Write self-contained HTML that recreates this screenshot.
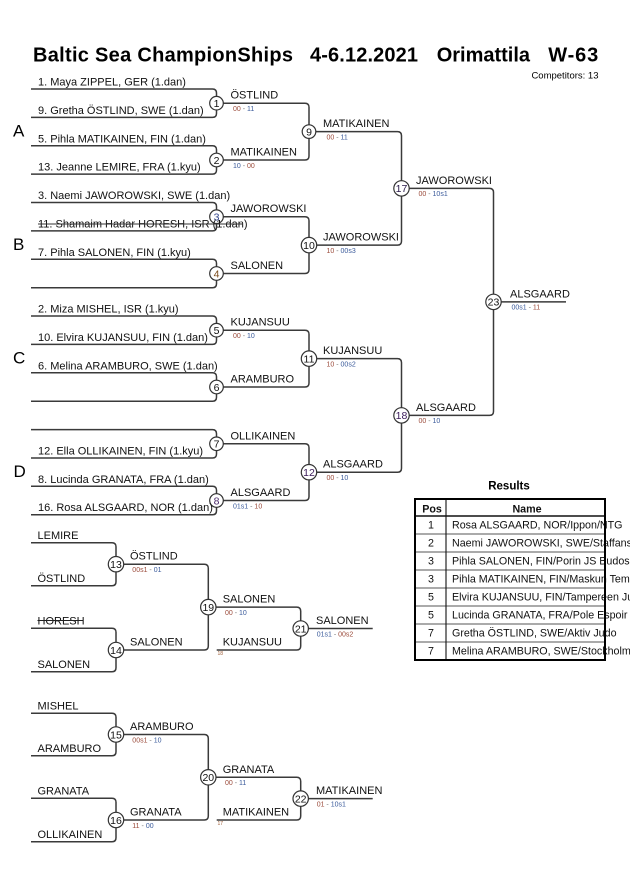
<!DOCTYPE html>
<html><head><meta charset="utf-8"><style>
html,body{margin:0;padding:0;background:#fff;}
svg{display:block;}
.t{font-family:"Liberation Sans",Arial,sans-serif;font-size:11px;fill:#111;}
.s{font-family:"Liberation Sans",Arial,sans-serif;font-size:7px;}
.n{font-family:"Liberation Sans",Arial,sans-serif;font-size:10.5px;fill:#111;text-anchor:middle;}
.L{fill:none;stroke:#3a3a3a;stroke-width:1.5;}
.c{fill:#fff;stroke:#333;stroke-width:1.2;}
.a{fill:#9b4b3b}.d{fill:#777}.b{fill:#3b5b9b}
</style></head><body>
<svg width="630" height="891" viewBox="0 0 630 891" xmlns="http://www.w3.org/2000/svg">
<!-- Title -->
<g font-family="Liberation Sans, Arial, sans-serif" font-weight="bold" font-size="20" fill="#000">
<text x="33" y="61.7" textLength="260" lengthAdjust="spacing">Baltic Sea ChampionShips</text>
<text x="310" y="61.7" textLength="108" lengthAdjust="spacing">4-6.12.2021</text>
<text x="436.7" y="61.7" textLength="93.3" lengthAdjust="spacing">Orimattila</text>
<text x="548.3" y="61.7" textLength="50" lengthAdjust="spacing">W-63</text>
</g>
<text x="598.5" y="78.5" font-family="Liberation Sans, Arial, sans-serif" font-size="9.5" text-anchor="end" fill="#000">Competitors: 13</text>

<!-- Pool letters -->
<g font-family="Liberation Sans, Arial, sans-serif" font-size="17" fill="#000">
<text x="13" y="136.7">A</text>
<text x="13" y="250">B</text>
<text x="13" y="363.5">C</text>
<text x="13.5" y="477">D</text>
</g>

<!-- Main bracket lines -->
<g class="L">
<path d="M31,89 H212.5 Q216.5,89 216.5,93 V113.4 Q216.5,117.4 212.5,117.4 H31"/>
<path d="M31,145.8 H212.5 Q216.5,145.8 216.5,149.8 V170.1 Q216.5,174.1 212.5,174.1 H31"/>
<path d="M31,202.5 H212.5 Q216.5,202.5 216.5,206.5 V226.9 Q216.5,230.9 212.5,230.9 H31"/>
<path d="M31,259.3 H212.5 Q216.5,259.3 216.5,263.3 V283.7 Q216.5,287.7 212.5,287.7 H31"/>
<path d="M31,316 H212.5 Q216.5,316 216.5,320 V340.4 Q216.5,344.4 212.5,344.4 H31"/>
<path d="M31,372.8 H212.5 Q216.5,372.8 216.5,376.8 V397.2 Q216.5,401.2 212.5,401.2 H31"/>
<path d="M31,429.6 H212.5 Q216.5,429.6 216.5,433.6 V454 Q216.5,458 212.5,458 H31"/>
<path d="M31,486.3 H212.5 Q216.5,486.3 216.5,490.3 V510.7 Q216.5,514.7 212.5,514.7 H31"/>

<path d="M216.5,103.2 H305 Q309,103.2 309,107.2 V156 Q309,160 305,160 H216.5"/>
<path d="M216.5,216.7 H305 Q309,216.7 309,220.7 V269.5 Q309,273.5 305,273.5 H216.5"/>
<path d="M216.5,330.2 H305 Q309,330.2 309,334.2 V383 Q309,387 305,387 H216.5"/>
<path d="M216.5,443.8 H305 Q309,443.8 309,447.8 V496.5 Q309,500.5 305,500.5 H216.5"/>

<path d="M309,131.6 H397.5 Q401.5,131.6 401.5,135.6 V241.1 Q401.5,245.1 397.5,245.1 H309"/>
<path d="M309,358.6 H397.5 Q401.5,358.6 401.5,362.6 V468.2 Q401.5,472.2 397.5,472.2 H309"/>

<path d="M401.5,188.4 H489.5 Q493.5,188.4 493.5,192.4 V411.4 Q493.5,415.4 489.5,415.4 H401.5"/>
<path d="M493.5,301.9 H566"/>

<!-- Repechage 1 -->
<path d="M31,542.7 H112 Q116,542.7 116,546.7 V581.7 Q116,585.7 112,585.7 H31"/>
<path d="M31,628.3 H112 Q116,628.3 116,632.3 V667.7 Q116,671.7 112,671.7 H31"/>
<path d="M116,564.2 H204.3 Q208.3,564.2 208.3,568.2 V646 Q208.3,650 204.3,650 H116"/>
<path d="M208.3,607.1 H296.7 Q300.7,607.1 300.7,611.1 V646 Q300.7,650 296.7,650 H216.7"/>
<path d="M300.7,628.5 H372.7"/>

<!-- Repechage 2 -->
<path d="M31,713.3 H112 Q116,713.3 116,717.3 V751.7 Q116,755.7 112,755.7 H31"/>
<path d="M31,798.3 H112 Q116,798.3 116,802.3 V837.7 Q116,841.7 112,841.7 H31"/>
<path d="M116,734.5 H204.3 Q208.3,734.5 208.3,738.5 V816 Q208.3,820 204.3,820 H116"/>
<path d="M208.3,777.3 H296.7 Q300.7,777.3 300.7,781.3 V816 Q300.7,820 296.7,820 H216.7"/>
<path d="M300.7,798.6 H372.7"/>
</g>

<!-- Circles -->
<g>
<circle class="c" cx="216.5" cy="103.2" r="6.8"/><text class="n" x="216.5" y="107">1</text>
<circle class="c" cx="216.5" cy="160" r="6.8"/><text class="n" x="216.5" y="163.8">2</text>
<circle class="c" cx="216.5" cy="216.7" r="6.8"/><text class="n" x="216.5" y="220.5" style="fill:#2a3f8a">3</text>
<circle class="c" cx="216.5" cy="273.5" r="6.8"/><text class="n" x="216.5" y="277.3" style="fill:#7a4a1a">4</text>
<circle class="c" cx="216.5" cy="330.2" r="6.8"/><text class="n" x="216.5" y="334">5</text>
<circle class="c" cx="216.5" cy="387" r="6.8"/><text class="n" x="216.5" y="390.8">6</text>
<circle class="c" cx="216.5" cy="443.8" r="6.8"/><text class="n" x="216.5" y="447.6">7</text>
<circle class="c" cx="216.5" cy="500.5" r="6.8"/><text class="n" x="216.5" y="504.3" style="fill:#4a2a6a">8</text>
<circle class="c" cx="309" cy="131.6" r="6.8"/><text class="n" x="309" y="135.4">9</text>
<circle class="c" cx="309" cy="245.1" r="7.7"/><text class="n" x="309" y="248.9">10</text>
<circle class="c" cx="309" cy="358.6" r="7.7"/><text class="n" x="309" y="362.4">11</text>
<circle class="c" cx="309" cy="472.2" r="7.7"/><text class="n" x="309" y="476" style="fill:#3a1a5a">12</text>
<circle class="c" cx="401.5" cy="188.4" r="7.7"/><text class="n" x="401.5" y="192.2" style="fill:#2a1a4a">17</text>
<circle class="c" cx="401.5" cy="415.4" r="7.7"/><text class="n" x="401.5" y="419.2" style="fill:#3a1a5a">18</text>
<circle class="c" cx="493.5" cy="301.9" r="7.7"/><text class="n" x="493.5" y="305.7">23</text>

<circle class="c" cx="116" cy="564.2" r="7.7"/><text class="n" x="116" y="568">13</text>
<circle class="c" cx="116" cy="650" r="7.7"/><text class="n" x="116" y="653.8">14</text>
<circle class="c" cx="208.3" cy="607.1" r="7.7"/><text class="n" x="208.3" y="610.9">19</text>
<circle class="c" cx="300.7" cy="628.5" r="7.7"/><text class="n" x="300.7" y="632.3">21</text>
<circle class="c" cx="116" cy="734.5" r="7.7"/><text class="n" x="116" y="738.3">15</text>
<circle class="c" cx="116" cy="820" r="7.7"/><text class="n" x="116" y="823.8">16</text>
<circle class="c" cx="208.3" cy="777.3" r="7.7"/><text class="n" x="208.3" y="781.1">20</text>
<circle class="c" cx="300.7" cy="798.6" r="7.7"/><text class="n" x="300.7" y="802.4">22</text>
</g>

<!-- Entrant names -->
<g class="t">
<text class="t" x="38" y="85.5">1. Maya ZIPPEL, GER (1.dan)</text>
<text class="t" x="38" y="113.9">9. Gretha ÖSTLIND, SWE (1.dan)</text>
<text class="t" x="38" y="142.3">5. Pihla MATIKAINEN, FIN (1.dan)</text>
<text class="t" x="38" y="170.6">13. Jeanne LEMIRE, FRA (1.kyu)</text>
<text class="t" x="38" y="199">3. Naemi JAWOROWSKI, SWE (1.dan)</text>
<text class="t" x="38" y="227.4">11. Shamaim Hadar HORESH, ISR (1.dan)</text>
<text class="t" x="38" y="255.8">7. Pihla SALONEN, FIN (1.kyu)</text>
<text class="t" x="38" y="312.5">2. Miza MISHEL, ISR (1.kyu)</text>
<text class="t" x="38" y="340.9">10. Elvira KUJANSUU, FIN (1.dan)</text>
<text class="t" x="38" y="369.3">6. Melina ARAMBURO, SWE (1.dan)</text>
<text class="t" x="38" y="454.5">12. Ella OLLIKAINEN, FIN (1.kyu)</text>
<text class="t" x="38" y="482.8">8. Lucinda GRANATA, FRA (1.dan)</text>
<text class="t" x="38" y="511.2">16. Rosa ALSGAARD, NOR (1.dan)</text>
</g>
<line x1="38" y1="224" x2="243" y2="224" stroke="#333" stroke-width="1"/>

<!-- Winner labels main -->
<g>
<text class="t" x="230.5" y="98.7">ÖSTLIND</text>
<text class="t" x="230.5" y="155.5">MATIKAINEN</text>
<text class="t" x="230.5" y="212.2">JAWOROWSKI</text>
<text class="t" x="230.5" y="269">SALONEN</text>
<text class="t" x="230.5" y="325.7">KUJANSUU</text>
<text class="t" x="230.5" y="382.5">ARAMBURO</text>
<text class="t" x="230.5" y="439.3">OLLIKAINEN</text>
<text class="t" x="230.5" y="496">ALSGAARD</text>
<text class="t" x="323" y="127.1">MATIKAINEN</text>
<text class="t" x="323" y="240.6">JAWOROWSKI</text>
<text class="t" x="323" y="354.1">KUJANSUU</text>
<text class="t" x="323" y="467.7">ALSGAARD</text>
<text class="t" x="416" y="183.9">JAWOROWSKI</text>
<text class="t" x="416" y="410.9">ALSGAARD</text>
<text class="t" x="510" y="297.4">ALSGAARD</text>
</g>

<!-- Scores main -->
<g>
<text class="s" x="233" y="111"><tspan class="a">00</tspan><tspan class="d"> - </tspan><tspan class="b">11</tspan></text>
<text class="s" x="233" y="167.8"><tspan class="b">10</tspan><tspan class="d"> - </tspan><tspan class="a">00</tspan></text>
<text class="s" x="233" y="338"><tspan class="a">00</tspan><tspan class="d"> - </tspan><tspan class="b">10</tspan></text>
<text class="s" x="233" y="508.3"><tspan class="b">01s1</tspan><tspan class="d"> - </tspan><tspan class="a">10</tspan></text>
<text class="s" x="326.5" y="139.4"><tspan class="a">00</tspan><tspan class="d"> - </tspan><tspan class="b">11</tspan></text>
<text class="s" x="326.5" y="252.9"><tspan class="a">10</tspan><tspan class="d"> - </tspan><tspan class="b">00s3</tspan></text>
<text class="s" x="326.5" y="366.4"><tspan class="a">10</tspan><tspan class="d"> - </tspan><tspan class="b">00s2</tspan></text>
<text class="s" x="326.5" y="480"><tspan class="a">00</tspan><tspan class="d"> - </tspan><tspan class="b">10</tspan></text>
<text class="s" x="418.5" y="196.2"><tspan class="a">00</tspan><tspan class="d"> - </tspan><tspan class="b">10s1</tspan></text>
<text class="s" x="418.5" y="423.2"><tspan class="a">00</tspan><tspan class="d"> - </tspan><tspan class="b">10</tspan></text>
<text class="s" x="511.5" y="309.7"><tspan class="b">00s1</tspan><tspan class="d"> - </tspan><tspan class="a">11</tspan></text>
</g>

<!-- Repechage texts -->
<g>
<text class="t" x="37.5" y="539">LEMIRE</text>
<text class="t" x="37.5" y="582">ÖSTLIND</text>
<text class="t" x="37.5" y="624.5">HORESH</text>
<text class="t" x="37.5" y="668">SALONEN</text>
<text class="t" x="130" y="559.7">ÖSTLIND</text>
<text class="t" x="130" y="645.5">SALONEN</text>
<text class="t" x="222.7" y="602.6">SALONEN</text>
<text class="t" x="222.7" y="645.5">KUJANSUU</text>
<text class="t" x="316" y="624">SALONEN</text>

<text class="t" x="37.5" y="709.5">MISHEL</text>
<text class="t" x="37.5" y="752">ARAMBURO</text>
<text class="t" x="37.5" y="794.5">GRANATA</text>
<text class="t" x="37.5" y="838">OLLIKAINEN</text>
<text class="t" x="130" y="730">ARAMBURO</text>
<text class="t" x="130" y="815.5">GRANATA</text>
<text class="t" x="222.7" y="772.8">GRANATA</text>
<text class="t" x="222.7" y="815.5">MATIKAINEN</text>
<text class="t" x="316" y="794.1">MATIKAINEN</text>
</g>
<line x1="37.5" y1="620.5" x2="83" y2="620.5" stroke="#222" stroke-width="1"/>
<g font-family="Liberation Sans, Arial, sans-serif" font-size="5" fill="#a0603a">
<text x="217.5" y="655">18</text>
<text x="217.5" y="825">17</text>
</g>
<g>
<text class="s" x="132.3" y="572"><tspan class="a">00s1</tspan><tspan class="d"> - </tspan><tspan class="b">01</tspan></text>
<text class="s" x="225" y="614.9"><tspan class="a">00</tspan><tspan class="d"> - </tspan><tspan class="b">10</tspan></text>
<text class="s" x="316.7" y="636.3"><tspan class="b">01s1</tspan><tspan class="d"> - </tspan><tspan class="a">00s2</tspan></text>
<text class="s" x="132.3" y="742.3"><tspan class="a">00s1</tspan><tspan class="d"> - </tspan><tspan class="b">10</tspan></text>
<text class="s" x="132.3" y="827.8"><tspan class="a">11</tspan><tspan class="d"> - </tspan><tspan class="b">00</tspan></text>
<text class="s" x="225" y="785.1"><tspan class="a">00</tspan><tspan class="d"> - </tspan><tspan class="b">11</tspan></text>
<text class="s" x="316.7" y="806.4"><tspan class="a">01</tspan><tspan class="d"> - </tspan><tspan class="b">10s1</tspan></text>
</g>

<!-- Results table -->
<text x="509" y="489.5" font-family="Liberation Sans, Arial, sans-serif" font-weight="bold" font-size="11.5" text-anchor="middle" fill="#000">Results</text>
<g font-family="Liberation Sans, Arial, sans-serif" font-size="10.7" fill="#111">
<text x="432" y="512.5" font-weight="bold" text-anchor="middle">Pos</text>
<text x="527" y="512.5" font-weight="bold" text-anchor="middle">Name</text>
<text x="431" y="528.5" text-anchor="middle">1</text><text x="452" y="528.5">Rosa ALSGAARD, NOR/Ippon/NTG</text>
<text x="431" y="546.5" text-anchor="middle">2</text><text x="452" y="546.5">Naemi JAWOROWSKI, SWE/Staffanstorps JK</text>
<text x="431" y="564.5" text-anchor="middle">3</text><text x="452" y="564.5">Pihla SALONEN, FIN/Porin JS Budosport</text>
<text x="431" y="582.5" text-anchor="middle">3</text><text x="452" y="582.5">Pihla MATIKAINEN, FIN/Maskun Tempaus</text>
<text x="431" y="600.5" text-anchor="middle">5</text><text x="452" y="600.5">Elvira KUJANSUU, FIN/Tampereen Judo</text>
<text x="431" y="618.5" text-anchor="middle">5</text><text x="452" y="618.5">Lucinda GRANATA, FRA/Pole Espoir</text>
<text x="431" y="636.5" text-anchor="middle">7</text><text x="452" y="636.5">Gretha ÖSTLIND, SWE/Aktiv Judo</text>
<text x="431" y="654.5" text-anchor="middle">7</text><text x="452" y="654.5">Melina ARAMBURO, SWE/Stockholm Judo</text>
</g>
<g stroke="#777" stroke-width="1.3">
<line x1="415" y1="534" x2="605" y2="534"/>
<line x1="415" y1="552" x2="605" y2="552"/>
<line x1="415" y1="570" x2="605" y2="570"/>
<line x1="415" y1="588" x2="605" y2="588"/>
<line x1="415" y1="606" x2="605" y2="606"/>
<line x1="415" y1="624" x2="605" y2="624"/>
<line x1="415" y1="642" x2="605" y2="642"/>
</g>
<line x1="415" y1="516" x2="605" y2="516" stroke="#111" stroke-width="1.4"/>
<line x1="446" y1="499" x2="446" y2="660" stroke="#111" stroke-width="1.1"/>
<rect x="415" y="499" width="190" height="161" fill="none" stroke="#000" stroke-width="2"/>
</svg>
</body></html>
